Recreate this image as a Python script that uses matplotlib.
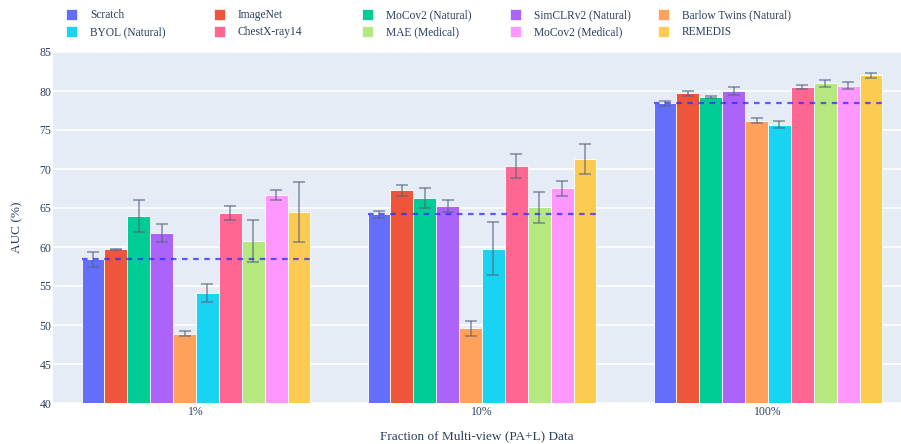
import numpy as np
import matplotlib.pyplot as plt
from matplotlib.patches import Rectangle

# AUC (%) per pretraining method at each fraction of labelled multi-view data
fractions = ["1%", "10%", "100%"]
methods = ["Scratch", "ImageNet", "MoCov2 (Natural)", "SimCLRv2 (Natural)",
           "Barlow Twins (Natural)", "BYOL (Natural)", "ChestX-ray14",
           "MAE (Medical)", "MoCov2 (Medical)", "REMEDIS"]
colors = ["#636EFA", "#EF553B", "#00CC96", "#AB63FA", "#FFA15A",
          "#19D3F3", "#FF6692", "#B6E880", "#FF97FF", "#FECB52"]

auc_1 = [58.4, 59.7, 64.0, 61.8, 48.9, 54.1, 64.4, 60.8, 66.7, 64.5]
auc_10 = [64.2, 67.3, 66.3, 65.3, 49.6, 59.8, 70.4, 65.1, 67.5, 71.3]
auc_100 = [78.4, 79.7, 79.2, 80.0, 76.2, 75.7, 80.5, 81.0, 80.7, 82.0]

err_1 = [1.0, 0.1, 2.05, 1.1, 0.35, 1.1, 0.9, 2.7, 0.65, 3.8]
err_10 = [0.45, 0.7, 1.3, 0.77, 0.95, 3.45, 1.5, 2.0, 1.0, 1.9]
err_100 = [0.3, 0.35, 0.1, 0.45, 0.3, 0.5, 0.28, 0.43, 0.5, 0.36]

auc = np.array([auc_1, auc_10, auc_100])
err = np.array([err_1, err_10, err_100])

plt.rcParams['font.family'] = ['Liberation Serif', 'DejaVu Serif']
text_color = "#2a3f5f"

W, H = 901, 444
fig = plt.figure(figsize=(W / 100, H / 100), dpi=100)
ax = fig.add_axes([53 / W, 1 - 403 / H, 1 - 53 / W, 351 / H])
ax.set_facecolor("#E5ECF6")

n = len(methods)
group_w = 0.8
bar_w = group_w / n
x = np.arange(len(fractions))

for i, (name, c) in enumerate(zip(methods, colors)):
    pos = x - group_w / 2 + bar_w * (i + 0.5)
    ax.bar(pos, auc[:, i] - 40, bottom=40, width=bar_w, color=c,
           edgecolor="white", linewidth=0.6, label=name, zorder=2)
    ax.errorbar(pos, auc[:, i], yerr=err[:, i], fmt="none",
                ecolor="#55657d", alpha=0.65, elinewidth=1.2,
                capsize=4, capthick=1.2, zorder=3)

# Scratch baseline across each group
for g in range(len(fractions)):
    ax.hlines(auc[g, 0], x[g] - group_w / 2, x[g] + group_w / 2,
              colors="#2a2aff", linestyles=(0, (2.5, 2.5)), linewidth=1.6,
              alpha=0.75, zorder=4)

ax.set_xlim(-0.5, -0.5 + 848 / 286)
ax.set_ylim(40, 85)
ax.set_yticks(range(40, 86, 5))
ax.set_xticks(x)
ax.set_xticklabels(fractions)
ax.yaxis.grid(True, color="white", linewidth=1.2, zorder=0)
ax.set_axisbelow(True)
for s in ax.spines.values():
    s.set_visible(False)
ax.tick_params(length=0, labelsize=8.5, colors=text_color)
ax.tick_params(axis="x", pad=2.5)
ax.tick_params(axis="y", pad=1)

ax.set_ylabel("AUC (%)", fontsize=9.5, color=text_color, va="center")
ax.yaxis.set_label_coords((17 - 53) / 848, 0.5)
ax.set_xlabel("Fraction of Multi-view (PA+L) Data", fontsize=9.5,
              color=text_color, va="center")
ax.xaxis.set_label_coords(0.5, (403 - 436) / 351)

# legend laid out in two rows of five, filled row by row
for i, (name, c) in enumerate(zip(methods, colors)):
    col, row = i % 5, i // 5
    yc = 15 + 17 * row
    fig.add_artist(Rectangle(((66 + 148 * col) / W, 1 - (yc + 5.5) / H),
                             11 / W, 11 / H, transform=fig.transFigure,
                             facecolor=c, edgecolor="white", linewidth=0.5))
    fig.text((90 + 148 * col) / W, 1 - yc / H, name, fontsize=8.3,
             color=text_color, va="center", ha="left")

fig.savefig("out.png", dpi=100)
